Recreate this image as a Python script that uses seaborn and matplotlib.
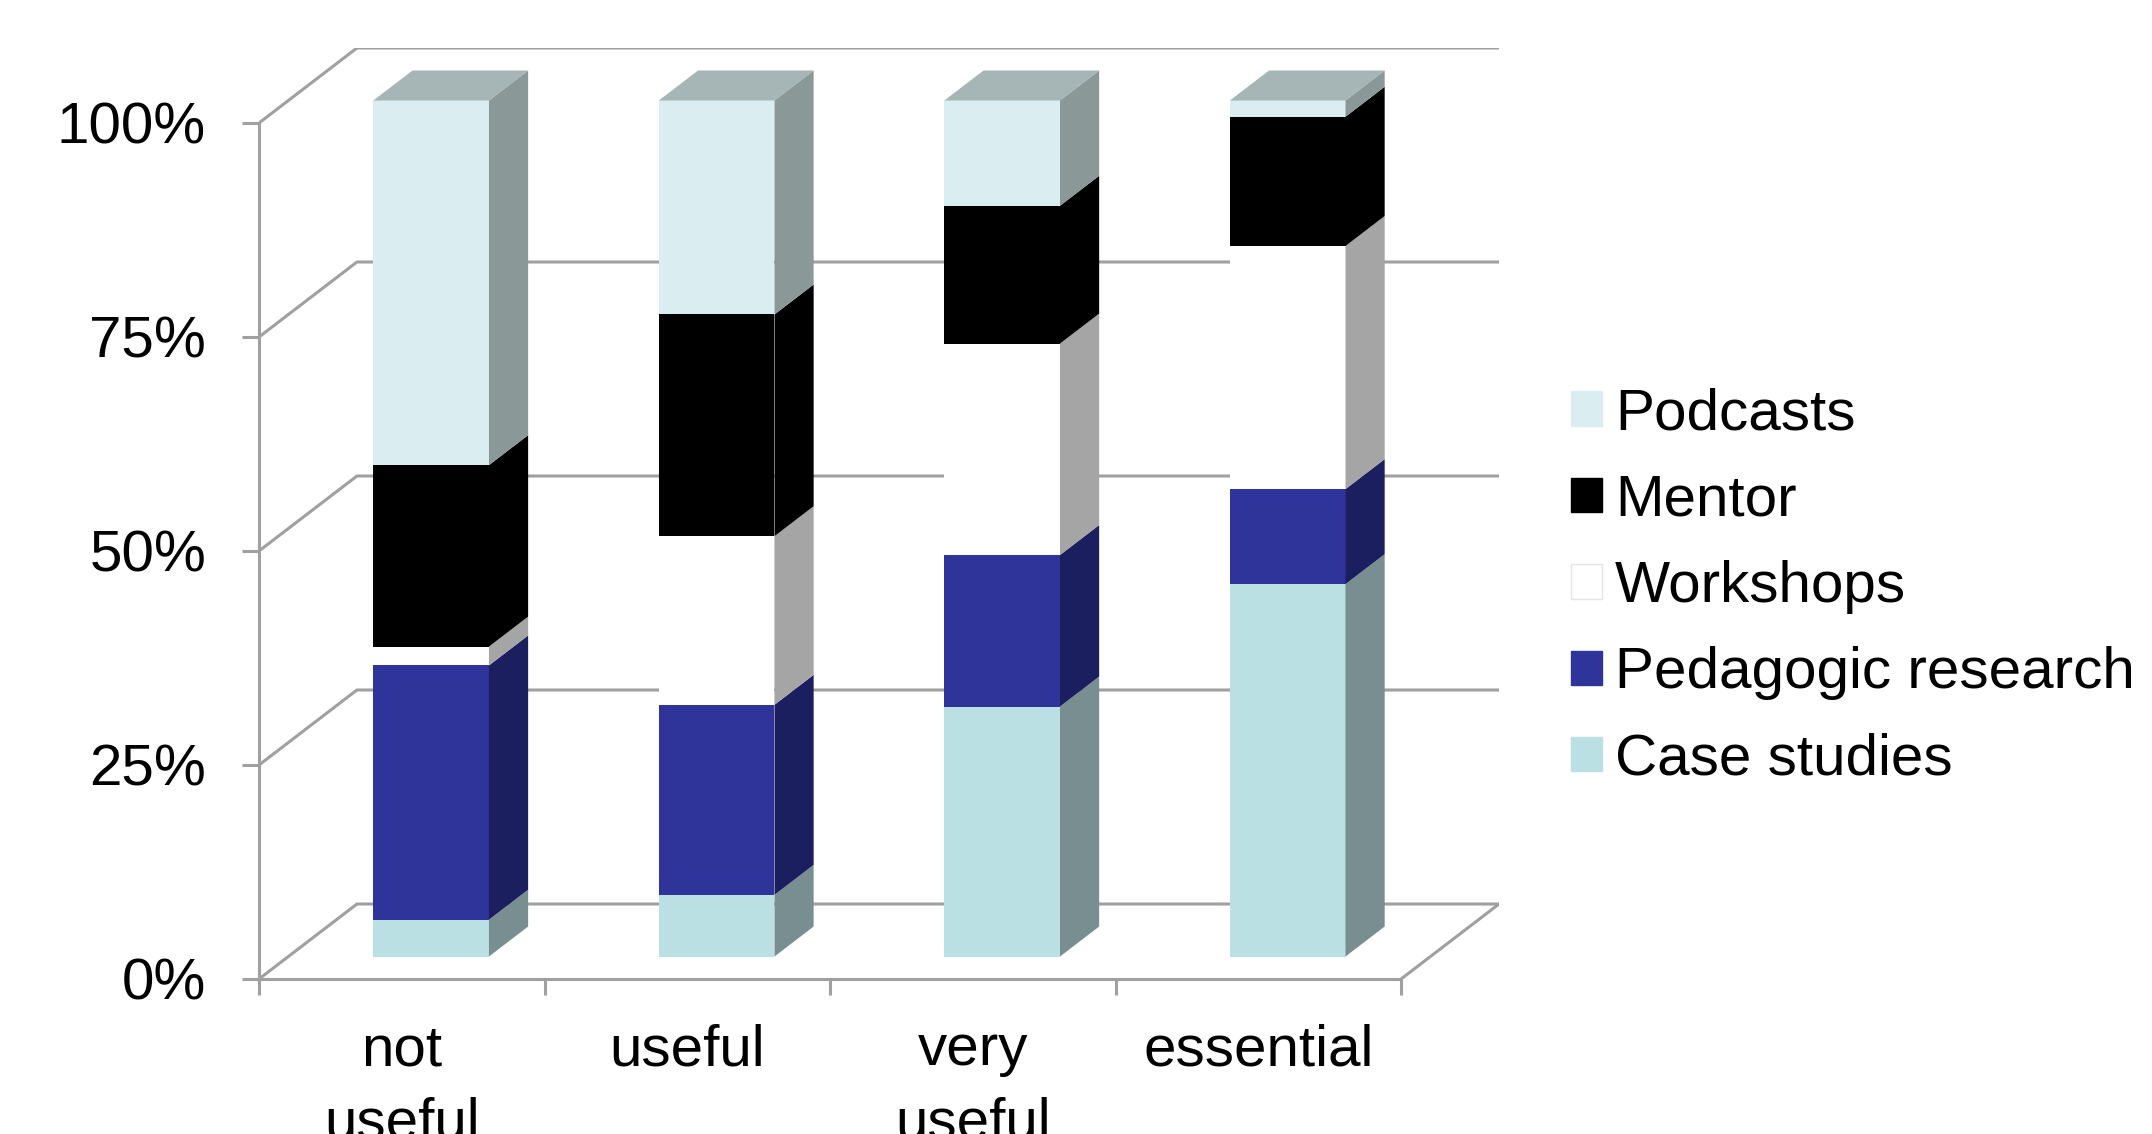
import numpy as np
import pandas as pd
import seaborn as sns
import matplotlib.pyplot as plt
from matplotlib.patches import Patch

# Data (percent of responses per rating)
categories = ["not\nuseful", "useful", "very\nuseful", "essential"]
series = ["Case studies", "Pedagogic research", "Workshops", "Mentor", "Podcasts"]
case_studies = [4.3, 7.2, 29.2, 43.5]
pedagogic = [29.7, 22.2, 17.7, 11.1]
workshops = [2.2, 19.7, 24.7, 28.4]
mentor = [21.2, 25.9, 16.1, 15.1]
podcasts = [42.6, 25.0, 12.3, 1.9]
yticks = [0, 25, 50, 75, 100]

# Colours: front face, side face, top face
front_colors = ["#bae0e3", "#2e3499", "#ffffff", "#000000", "#daedf0"]
side_colors = ["#788e90", "#1b1e5f", "#a5a5a5", "#000000", "#8b9898"]
top_colors = ["#9fbfc2", "#262b80", "#d0d0d0", "#000000", "#a6b5b5"]

sns.set_theme(style="white")
plt.rcParams["font.family"] = ["Liberation Sans", "DejaVu Sans"]
plt.rcParams["text.color"] = "black"
plt.rcParams["xtick.labelcolor"] = "black"
plt.rcParams["ytick.labelcolor"] = "black"

fig = plt.figure(figsize=(21.52, 11.34), dpi=100)
ax = fig.add_axes([259 / 2152, 1 - 979 / 1134, (1499 - 259) / 2152, (979 - 48) / 1134])

# fake 3d: full floor depth in data units; the bars sit at depth Z0..Z1,
# the bar front plane is the data plane, the front wall is shifted by -Z0
DX = 0.343
DY = 8.76
Z0, Z1 = 0.30, 0.70
W = 0.405
grid_c = "#a0a0a0"
lw = 2.2
fx0, fy0 = -Z0 * DX, -Z0 * DY      # offset of front plane
bx0, by0 = (1 - Z0) * DX, (1 - Z0) * DY  # offset of back wall
n = len(categories)

# back wall / left wall / floor lines
for t in yticks:
    ax.plot([-0.5 + fx0, -0.5 + bx0, n - 0.5 + bx0], [t + fy0, t + by0, t + by0],
            color=grid_c, lw=lw, zorder=0, solid_joinstyle="miter")
ax.plot([n - 0.5 + fx0, n - 0.5 + bx0], [fy0, by0], color=grid_c, lw=lw, zorder=0)

values = np.array([case_studies, pedagogic, workshops, mentor, podcasts])
tops = values.cumsum(axis=0)
bottoms = tops - values

df = pd.DataFrame({
    "rating": np.tile(categories, len(series)),
    "series": np.repeat(series, n),
    "top": tops.ravel(),
})

# front faces: cumulative bars, tallest first
for i in reversed(range(len(series))):
    sub = df[df["series"] == series[i]]
    sns.barplot(data=sub, x="rating", y="top", order=categories,
                width=W, color=front_colors[i], saturation=1, errorbar=None,
                linewidth=0, ax=ax, zorder=3)

# side and top faces
d = Z1 - Z0
for i in range(len(series)):
    for j in range(n):
        xl = j - W / 2
        xr = j + W / 2
        b, t = bottoms[i, j], tops[i, j]
        ax.fill([xr, xr + d * DX, xr + d * DX, xr],
                [b, b + d * DY, t + d * DY, t],
                color=side_colors[i], lw=0, zorder=3)
        if i == len(series) - 1:
            ax.fill([xl, xr, xr + d * DX, xl + d * DX],
                    [t, t, t + d * DY, t + d * DY],
                    color=top_colors[i], lw=0, zorder=3)

# axes on the front plane
for s in ["top", "right"]:
    ax.spines[s].set_visible(False)
for s in ["left", "bottom"]:
    ax.spines[s].set_color(grid_c)
    ax.spines[s].set_linewidth(lw)
ax.spines["left"].set_position(("data", -0.5 + fx0))
ax.spines["bottom"].set_position(("data", fy0))
ax.spines["left"].set_bounds(fy0, 100 + fy0)
ax.spines["bottom"].set_bounds(-0.5 + fx0, n - 0.5 + fx0)
ax.set_xlim(-0.5 + fx0, n - 0.5 + bx0)
ax.set_ylim(fy0, 100 + by0)

ax.set_yticks([t + fy0 for t in yticks])
ax.set_yticklabels([f"{t}%" for t in yticks])
ax.tick_params(axis="y", length=12, width=lw, color=grid_c, pad=26,
               labelsize=42, direction="out", left=True, labelcolor="black")
ax.set_xticks(np.arange(n + 1) - 0.5 + fx0)
ax.set_xticklabels([])
ax.set_xticks(np.arange(n) + fx0, minor=True)
ax.set_xticklabels(categories, minor=True)
ax.tick_params(axis="x", which="major", length=11.5, width=lw, color=grid_c,
               direction="out", bottom=True)
ax.tick_params(axis="x", which="minor", length=0, pad=32, labelsize=42,
               labelcolor="black")
for lbl in ax.get_xticklabels(minor=True):
    lbl.set_linespacing(1.45)
ax.set_xlabel("")
ax.set_ylabel("")

# legend
handles = [Patch(facecolor=front_colors[i],
                 edgecolor="#e4e4e4" if front_colors[i] == "#ffffff" else front_colors[i])
           for i in reversed(range(len(series)))]
fig.legend(handles, series[::-1], loc="center left",
           bbox_to_anchor=(1571 / 2152, 1 - 587 / 1134), frameon=False,
           fontsize=42, handlelength=0.53, handleheight=0.53,
           handletextpad=0.22, labelspacing=0.555, borderpad=0, borderaxespad=0,
           labelcolor="black")

fig.savefig("out.png", dpi=100)
